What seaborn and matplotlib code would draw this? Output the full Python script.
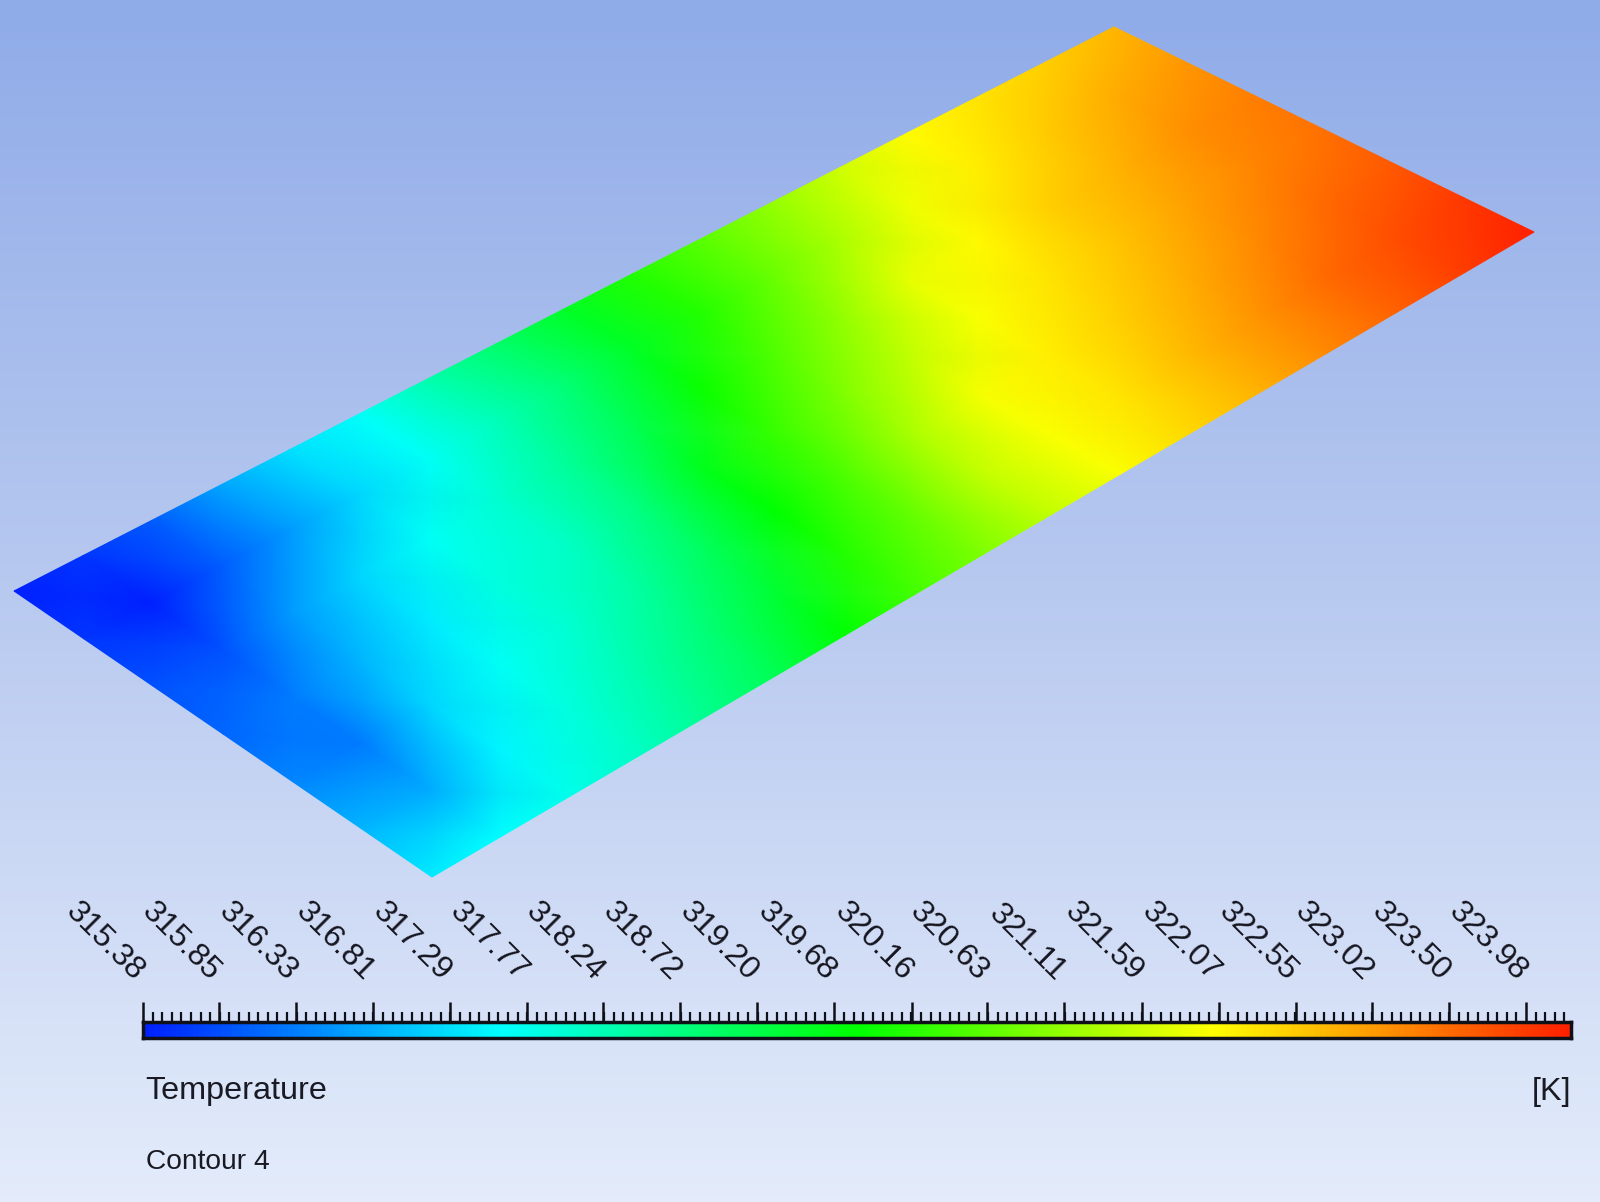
import numpy as np
import matplotlib.pyplot as plt
import seaborn as sns
from matplotlib.transforms import ScaledTranslation

# legend ticks of the contour
tick_labels = ['315.38', '315.85', '316.33', '316.81', '317.29', '317.77', '318.24',
               '318.72', '319.20', '319.68', '320.16', '320.63', '321.11', '321.59',
               '322.07', '322.55', '323.02', '323.50', '323.98']
t_min = 315.38
t_max = 324.26

# temperature on the plate, one row per line across the plate (far edge to near edge),
# one column per step along the long side
row_0 = [315.4, 315.6, 316.0, 316.7, 317.3, 317.65, 318.3, 318.9, 319.5, 320.1, 320.6, 321.1, 321.6, 322.05, 322.3, 322.5, 322.75]
row_1 = [315.6, 315.4, 316.0, 316.6, 317.2, 317.7, 318.2, 318.8, 319.5, 320.1, 320.7, 321.3, 321.9, 322.2, 322.55, 322.85, 323.05]
row_2 = [315.9, 315.9, 316.6, 317.2, 317.7, 318.0, 318.5, 319.1, 319.9, 320.5, 321.1, 321.8, 322.1, 322.5, 322.8, 323.15, 323.3]
row_3 = [316.1, 316.3, 316.9, 317.4, 317.9, 318.1, 318.7, 319.6, 320.3, 320.9, 321.5, 322.0, 322.3, 322.6, 322.95, 323.25, 323.45]
row_4 = [316.4, 316.3, 317.2, 317.7, 318.0, 318.4, 319.0, 319.8, 320.5, 321.3, 321.95, 322.2, 322.5, 322.85, 323.2, 323.5, 323.7]
row_5 = [316.9, 316.8, 317.5, 317.9, 318.3, 318.8, 319.4, 320.1, 320.7, 321.5, 322.0, 322.3, 322.7, 323.1, 323.5, 323.8, 324.0]
row_6 = [317.4, 317.6, 317.8, 318.1, 318.6, 319.1, 319.8, 320.4, 320.9, 321.5, 322.0, 322.4, 322.8, 323.2, 323.6, 323.95, 324.25]
plate = np.array([row_0, row_1, row_2, row_3, row_4, row_5, row_6])

W, H = 1600, 1202
# plate corners in pixels: left, far, right, near
c_left = np.array([14, 591])
c_far = np.array([1114, 27])
c_right = np.array([1534, 232])
c_near = np.array([432, 877])

sns.set_theme(style='white')
plt.rcParams['font.family'] = ['Liberation Sans', 'DejaVu Sans']

rainbow = sns.blend_palette(['#0020ff', '#00ffff', '#00ff00', '#ffff00', '#ff2000'], n_colors=256, as_cmap=True)
sky = sns.blend_palette(['#8fabe8', '#b9caf0', '#e4ecfb'], n_colors=256, as_cmap=True)

fig = plt.figure(figsize=(W / 100, H / 100), dpi=100)
ax = fig.add_axes([0, 0, 1, 1])
ax.imshow(np.linspace(0, 1, 256)[:, None], cmap=sky, aspect='auto', extent=(0, W, H, 0))

# plate grid, bilinear between the four corners
u = np.linspace(0, 1, plate.shape[1])
v = np.linspace(0, 1, plate.shape[0])
uu, vv = np.meshgrid(u, v)
X = (1 - uu) * (1 - vv) * c_left[0] + uu * (1 - vv) * c_far[0] + (1 - uu) * vv * c_near[0] + uu * vv * c_right[0]
Y = (1 - uu) * (1 - vv) * c_left[1] + uu * (1 - vv) * c_far[1] + (1 - uu) * vv * c_near[1] + uu * vv * c_right[1]
ax.pcolormesh(X, Y, plate, cmap=rainbow, vmin=t_min, vmax=t_max, shading='gouraud')
ax.set_xlim(0, W)
ax.set_ylim(H, 0)
ax.axis('off')

# colour legend
cax = fig.add_axes([143 / W, 1 - 1038 / H, 1428 / W, 16 / H])
n_cells = 512
strip = np.linspace(t_min, t_max, n_cells)[None, :]
sns.heatmap(strip, ax=cax, cmap=rainbow, vmin=t_min, vmax=t_max, cbar=False, xticklabels=False, yticklabels=False)


def to_cell(t):
    return (np.asarray(t) - t_min) / (t_max - t_min) * n_cells


tick_vals = np.array([float(s) for s in tick_labels])
step = (tick_vals[-1] - tick_vals[0]) / (len(tick_vals) - 1)
minor = np.arange(t_min, t_max, step / 8)
cax.set_xticks(to_cell(tick_vals))
cax.set_xticks(to_cell(minor), minor=True)
cax.set_xlim(0, n_cells)
cax.set_xticklabels(tick_labels, rotation=-45, ha='right', va='center', rotation_mode='anchor', fontsize=23, color='#15151f')
cax.tick_params(axis='x', which='major', top=True, bottom=False, labeltop=True, labelbottom=False, length=14.4, width=1.8, color='#101018', pad=18.5)
cax.tick_params(axis='x', which='minor', top=True, bottom=False, length=7.2, width=1.6, color='#101018')
cax.tick_params(axis='y', left=False)
for s in cax.spines.values():
    s.set_visible(True)
    s.set_color('#101018')
    s.set_linewidth(2.5)

shift = ScaledTranslation(-3.5 / 100, 0, fig.dpi_scale_trans)
for lab in cax.get_xticklabels():
    lab.set_transform(lab.get_transform() + shift)

ax.text(145, 1099, 'Temperature', fontsize=23.3, color='#1a1a24', ha='left', va='baseline')
ax.text(1571, 1100, '[K]', fontsize=23.3, color='#1a1a24', ha='right', va='baseline')
ax.text(146, 1169, 'Contour 4', fontsize=20.3, color='#1a1a24', ha='left', va='baseline')

fig.savefig('out.png', dpi=100)
